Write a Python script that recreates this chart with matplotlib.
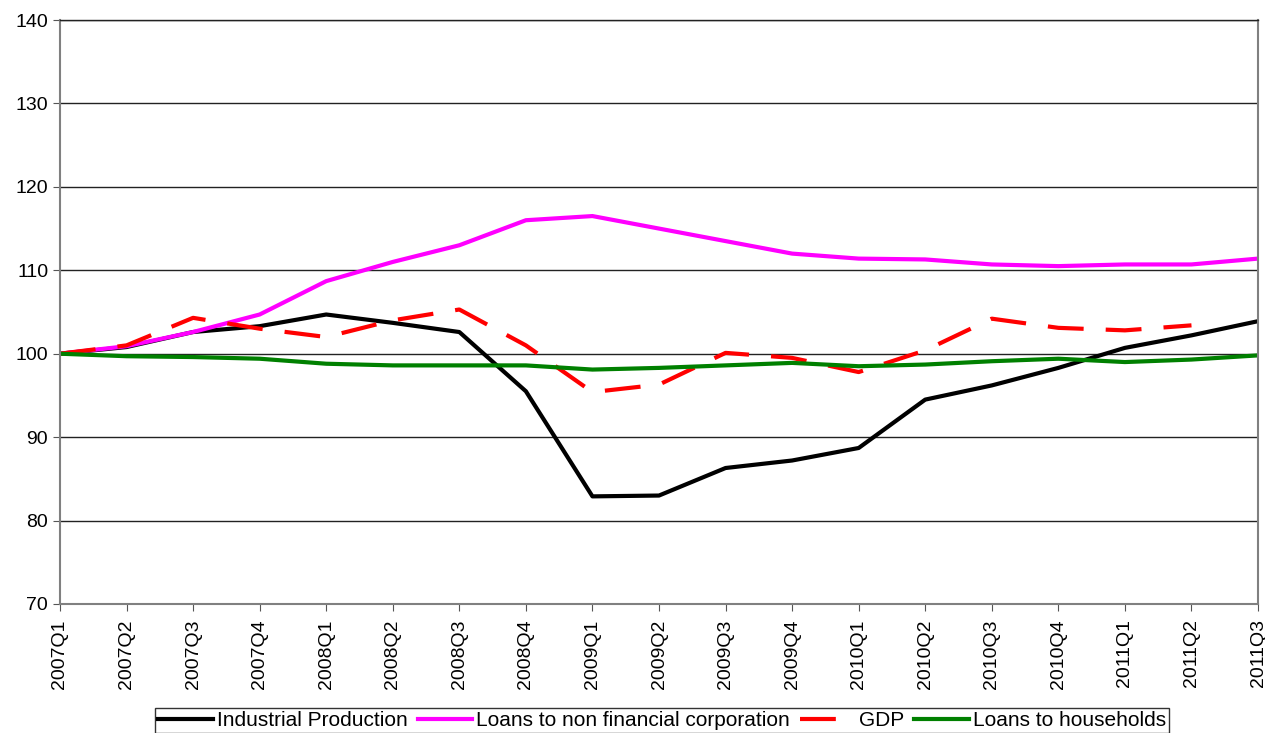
import matplotlib.pyplot as plt

# -----------------------------
# Data
# -----------------------------
quarters = ["2007Q1", "2007Q2", "2007Q3", "2007Q4",
            "2008Q1", "2008Q2", "2008Q3", "2008Q4",
            "2009Q1", "2009Q2", "2009Q3", "2009Q4",
            "2010Q1", "2010Q2", "2010Q3", "2010Q4",
            "2011Q1", "2011Q2", "2011Q3"]

industrial = [100, 100.8, 102.6, 103.3, 104.7, 103.7, 102.6, 95.5, 82.9, 83.0,
              86.3, 87.2, 88.7, 94.5, 96.2, 98.3, 100.7, 102.2, 103.9]
loans_nfc = [100, 100.9, 102.6, 104.7, 108.7, 111.0, 113.0, 116.0, 116.5, 115.0,
             113.5, 112.0, 111.4, 111.3, 110.7, 110.5, 110.7, 110.7, 111.4]
gdp = [100, 101.0, 104.3, 103.0, 102.0, 104.0, 105.3, 101.0, 95.4, 96.3,
       100.1, 99.5, 97.8, 100.4, 104.2, 103.1, 102.8, 103.4]
loans_hh = [100, 99.7, 99.6, 99.4, 98.8, 98.6, 98.6, 98.6, 98.1, 98.3,
            98.6, 98.9, 98.5, 98.7, 99.1, 99.4, 99.0, 99.3, 99.8]

plt.rcParams['font.family'] = ['Liberation Sans', 'DejaVu Sans']

fig = plt.figure(figsize=(12.65, 7.33), dpi=100)
ax = fig.add_axes([0.0474, 0.176, 0.9471, 0.7967])

x = list(range(len(quarters)))
ax.plot(x, industrial, color="black", lw=3, label="Industrial Production")
ax.plot(x, loans_nfc, color="#ff00ff", lw=3, label="Loans to non financial corporation")
ax.plot(x[:len(gdp)], gdp, color="red", lw=3, linestyle=(0, (8.6, 5.3)), label="GDP")
ax.plot(x, loans_hh, color="green", lw=3, label="Loans to households")

# -----------------------------
# Axes
# -----------------------------
ax.set_xlim(0, len(quarters) - 1)
ax.set_ylim(70, 140)
ax.set_yticks(range(70, 141, 10))
ax.set_xticks(x)
ax.set_xticklabels(quarters, rotation=90, fontsize=14)
ax.tick_params(axis="y", labelsize=14, length=5, color="#555555")
ax.tick_params(axis="x", length=5, pad=6, color="#555555")

ax.grid(axis="y", color="#222222", lw=1)
ax.set_axisbelow(True)
for side in ["left", "bottom", "right"]:
    ax.spines[side].set_color("#808080")
    ax.spines[side].set_linewidth(1.5)
ax.spines["top"].set_color("#222222")
ax.spines["top"].set_linewidth(1)

leg = fig.legend(loc="upper center", bbox_to_anchor=(0.5235, 0.034), ncol=4,
                 fontsize=15, frameon=True, fancybox=False, edgecolor="black",
                 handlelength=2.6, handletextpad=0.2, columnspacing=0.5,
                 borderpad=0.15, borderaxespad=0)
leg.get_frame().set_linewidth(1)

fig.savefig("out.png", dpi=100)
